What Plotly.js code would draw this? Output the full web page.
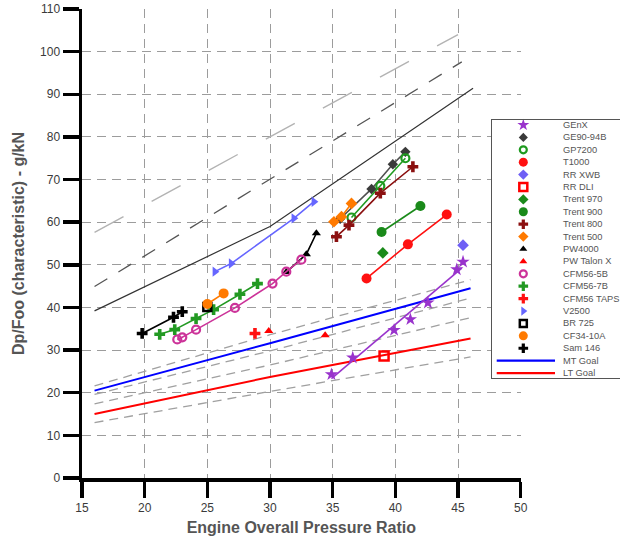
<!DOCTYPE html>
<html><head><meta charset="utf-8">
<script src="https://cdn.plot.ly/plotly-3.0.1.min.js"></script>
<style>html,body{margin:0;padding:0;background:#fff}#chart{width:620px;height:538px}</style>
</head><body><div id="chart"></div>
<script>
// ---------- data ----------
const names = ['GEnX','GE90-94B','GP7200','T1000','RR XWB','RR DLI','Trent 970','Trent 900','Trent 800','Trent 500','PW4000','PW Talon X','CFM56-5B','CFM56-7B','CFM56 TAPS','V2500','BR 725','CF34-10A','Sam 146','MT Goal','LT Goal'];

const genxX = [34.9, 36.6, 39.9, 41.2, 42.6, 44.9, 45.4];
const genxY = [24.3, 28.2, 34.7, 37.2, 41.1, 48.9, 50.7];
const genxFitX = [34.9, 45.3];
const genxFitY = [23.3, 49.2];
const ge90X = [35.6, 38.1, 39.8, 40.8];
const ge90Y = [60.8, 67.8, 73.6, 76.5];
const gp7200X = [36.5, 38.8, 40.8];
const gp7200Y = [61.1, 68.5, 75.0];
const t1000X = [37.7, 41.0, 44.1];
const t1000Y = [46.8, 54.8, 61.8];
const rrXwbX = [45.4];
const rrXwbY = [54.6];
const rrDliX = [39.1];
const rrDliY = [28.6];
const trent970X = [39.0];
const trent970Y = [52.8];
const trent900X = [38.9, 42.0];
const trent900Y = [57.7, 63.8];
const trent800X = [35.3, 36.3, 38.8, 41.4];
const trent800Y = [56.6, 59.3, 66.8, 73.0];
const trent500X = [35.1, 35.7, 36.5];
const trent500Y = [60.1, 61.3, 64.4];
const pw4000X = [31.3, 32.9, 33.7];
const pw4000Y = [48.3, 52.5, 57.4];
const talonX = [29.9, 34.4];
const talonY = [34.5, 33.5];
const cfm5bX = [22.6, 23.0, 24.1, 27.2, 30.2, 31.3, 32.5];
const cfm5bY = [32.5, 33.0, 34.8, 39.9, 45.6, 48.4, 51.2];
const cfm7bX = [21.2, 22.4, 24.1, 25.5, 27.6, 29.0];
const cfm7bY = [33.7, 34.8, 37.4, 39.5, 43.1, 45.6];
const tapsX = [28.8];
const tapsY = [33.9];
const v2500X = [25.6, 26.9, 31.9, 33.5];
const v2500Y = [48.4, 50.3, 60.9, 64.8];
const br725X = [25.0];
const br725Y = [40.1];
const cf34X = [25.0, 26.3];
const cf34Y = [40.8, 43.3];
const sam146X = [19.8, 22.3, 23.0];
const sam146Y = [33.9, 37.7, 39.0];

// regulatory / goal reference lines
const caep2X = [16, 45];
const caep2Y = [57.6, 104.0];
const caep4X = [16, 45.3];
const caep4Y = [44.9, 97.6];
const caep6X = [16, 30, 46.2];
const caep6Y = [39.2, 59.0, 91.4];
const goalX = [16, 30, 46];
const mtUpperY = [21.6, 33.6, 46.5];
const mtGoalY = [20.5, 31.6, 44.5];
const mtLowerY = [19.6, 29.8, 42.2];
const ltUpperY = [17.4, 26.5, 37.6];
const ltGoalY = [15.0, 23.7, 32.7];
const ltLowerY = [13.0, 20.3, 28.4];

const xTicks = [15, 20, 25, 30, 35, 40, 45, 50];
const yTicks = [0, 10, 20, 30, 40, 50, 60, 70, 80, 90, 100, 110];

// ---------- styles ----------
const seriesData = [
  [genxX, genxY], [ge90X, ge90Y], [gp7200X, gp7200Y], [t1000X, t1000Y], [rrXwbX, rrXwbY],
  [rrDliX, rrDliY], [trent970X, trent970Y], [trent900X, trent900Y], [trent800X, trent800Y],
  [trent500X, trent500Y], [pw4000X, pw4000Y], [talonX, talonY], [cfm5bX, cfm5bY],
  [cfm7bX, cfm7bY], [tapsX, tapsY], [v2500X, v2500Y], [br725X, br725Y], [cf34X, cf34Y],
  [sam146X, sam146Y]
];
const styles = [
  {symbol:'star', color:'#9933cc', size:10, line:false},
  {symbol:'diamond', color:'#3a3a3a', size:8, line:true, lc:'#505050'},
  {symbol:'circle-open', color:'#1f9a1f', size:8, lw:2.2, line:true},
  {symbol:'circle', color:'#ff1111', size:10, line:true},
  {symbol:'diamond', color:'#6f5ff5', size:9, line:false},
  {symbol:'square-open', color:'#ff0000', size:9, lw:2.5, line:false},
  {symbol:'diamond', color:'#1a8a1a', size:9, line:false},
  {symbol:'circle', color:'#1a8a1a', size:10, line:true},
  {symbol:'cross', color:'#8b1010', size:9, line:true},
  {symbol:'diamond', color:'#ff7a00', size:9, line:true},
  {symbol:'triangle-up', color:'#000000', size:8, line:true},
  {symbol:'triangle-up', color:'#ff0000', size:8, line:false},
  {symbol:'circle-open', color:'#cc3399', size:8, lw:2.2, line:true},
  {symbol:'cross', color:'#229922', size:9, line:true},
  {symbol:'cross', color:'#ff1111', size:9, line:false},
  {symbol:'triangle-right', color:'#6666ff', size:9, line:true},
  {symbol:'square-open', color:'#000000', size:8, lw:2.5, line:false},
  {symbol:'circle', color:'#ff7a00', size:10, line:true},
  {symbol:'cross', color:'#000000', size:9, line:true}
];

const traces = [];
function refLine(x, y, color, width, dash) {
  traces.push({x:x, y:y, type:'scatter', mode:'lines', hoverinfo:'skip',
    line:{color:color, width:width, dash:dash}, xaxis:'x', yaxis:'y'});
}
refLine(caep2X, caep2Y, '#b3b3b3', 1.4, '33px,32px');
refLine(caep4X, caep4Y, '#555555', 1.3, '15px,13px');
refLine(caep6X, caep6Y, '#333333', 1.2, 'solid');
refLine(goalX, mtUpperY, '#a0a0a0', 1.3, '9px,6px');
refLine(goalX, mtLowerY, '#a0a0a0', 1.3, '9px,6px');
refLine(goalX, ltUpperY, '#a0a0a0', 1.3, '9px,6px');
refLine(goalX, ltLowerY, '#a0a0a0', 1.3, '9px,6px');
refLine(goalX, mtGoalY, '#0000ff', 2, 'solid');
refLine(goalX, ltGoalY, '#ff0000', 2, 'solid');
refLine(genxFitX, genxFitY, '#9933cc', 1.6, 'solid');

function markerOf(s) {
  const open = s.symbol.indexOf('open') >= 0;
  return {symbol:s.symbol, size:s.size, color:s.color,
    line:{color:s.color, width: open ? s.lw : 0}};
}
seriesData.forEach((d, i) => {
  const s = styles[i];
  traces.push({x:d[0], y:d[1], type:'scatter', name:names[i],
    mode: s.line ? 'lines+markers' : 'markers',
    line:{color:s.lc || s.color, width:1.6},
    marker:markerOf(s), xaxis:'x', yaxis:'y', cliponaxis:false});
});

// ---------- custom legend (inset subplot) ----------
const legMarkX = 31.3, legTextX = 68.7;
const annotations = [];
names.forEach((n, i) => {
  if (i < styles.length) {
    const m = markerOf(styles[i]);
    m.size = Math.max(6, styles[i].size - 1);
    traces.push({x:[legMarkX], y:[i], type:'scatter', mode:'markers', hoverinfo:'skip',
      marker:m, xaxis:'x2', yaxis:'y2', cliponaxis:false});
  } else {
    traces.push({x:[4.7, 63], y:[i, i], type:'scatter', mode:'lines', hoverinfo:'skip',
      line:{color: i === 19 ? '#0000ff' : '#ff0000', width:2.2}, xaxis:'x2', yaxis:'y2'});
  }
  annotations.push({x:legTextX, y:i, xref:'x2', yref:'y2', text:n, showarrow:false,
    xanchor:'left', yanchor:'middle', font:{size:9.3, color:'#555555'}});
});

const gridStyle = {showgrid:true, gridcolor:'#9c9c9c', gridwidth:1, griddash:'9px,6px', zeroline:false};
const layout = {
  width:620, height:538,
  margin:{l:82, r:0, t:9, b:60, autoexpand:false},
  paper_bgcolor:'#ffffff', plot_bgcolor:'#ffffff',
  showlegend:false,
  font:{family:'"Liberation Sans", Arial, sans-serif', color:'#333333'},
  xaxis:Object.assign({domain:[0, 0.8154], range:[15, 50], tickmode:'array', tickvals:xTicks,
    ticks:'outside', ticklen:16, tickwidth:3.5, tickcolor:'#000', showline:true, linecolor:'#000', linewidth:4,
    tickfont:{size:12, color:'#3a3a3a'}, automargin:false, fixedrange:true,
    title:{text:'Engine Overall Pressure Ratio', font:{size:16, color:'#555555', weight:700}, standoff:8}}, gridStyle),
  yaxis:Object.assign({domain:[0, 1], range:[0, 110], tickmode:'array', tickvals:yTicks,
    ticks:'outside', ticklen:16, tickwidth:3.5, tickcolor:'#000', showline:true, linecolor:'#000', linewidth:3.5,
    tickfont:{size:12, color:'#3a3a3a'}, automargin:false, fixedrange:true,
    title:{text:'Dp/Foo (characteristic) - g/kN', font:{size:16, color:'#555555', weight:700}, standoff:12}}, gridStyle),
  xaxis2:{domain:[0.7621, 1], range:[0, 128], anchor:'y2', showline:true, mirror:true, linecolor:'#555', linewidth:1.3,
    showgrid:false, zeroline:false, showticklabels:false, ticks:'', fixedrange:true},
  yaxis2:{domain:[0.2132, 0.7633], range:[20.4, -0.4], anchor:'x2', showline:true, linecolor:'#555', linewidth:1.3,
    showgrid:false, zeroline:false, showticklabels:false, ticks:'', fixedrange:true},
  annotations:annotations
};
Plotly.newPlot('chart', traces, layout, {displayModeBar:false, staticPlot:true});
</script></body></html>
